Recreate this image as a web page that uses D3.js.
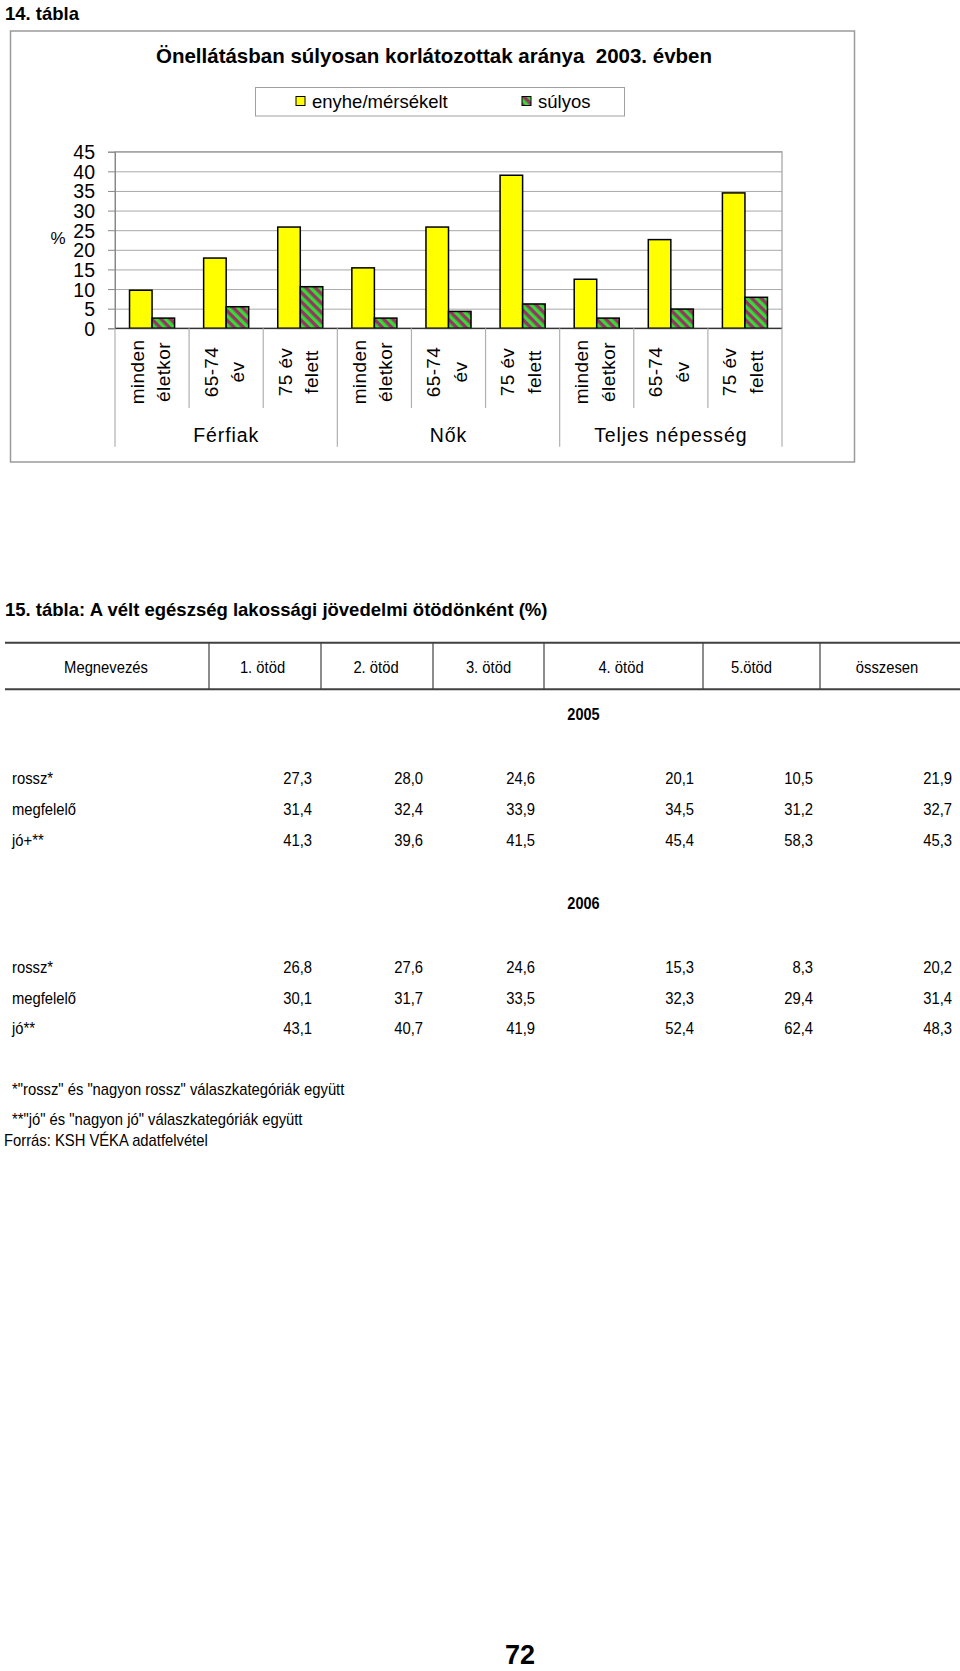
<!DOCTYPE html>
<html><head><meta charset="utf-8">
<script src="https://cdn.jsdelivr.net/npm/d3@7"></script>
<style>
body{margin:0;background:#fff;}
svg{display:block;font-family:"Liberation Sans",Arial,sans-serif;}
</style></head><body>
<svg id="c" width="960" height="1671"></svg>
<script>
// ---------- data ----------
const groups = ["Férfiak", "Nők", "Teljes népesség"];
const ageLabels = [["minden", "életkor"], ["65-74", "év"], ["75 év", "felett"]];
const seriesNames = ["enyhe/mérsékelt", "súlyos"];
const enyhe = [9.7, 17.9, 25.8, 15.4, 25.8, 39.0, 12.5, 22.6, 34.5];
const sulyos = [2.6, 5.5, 10.6, 2.6, 4.3, 6.2, 2.6, 4.9, 7.9];
const yTicks = [0, 5, 10, 15, 20, 25, 30, 35, 40, 45];

const tableHeaders = ["Megnevezés", "1. ötöd", "2. ötöd", "3. ötöd", "4. ötöd", "5.ötöd", "összesen"];
const years = ["2005", "2006"];
const rowLabels2005 = ["rossz*", "megfelelő", "jó+**"];
const rowLabels2006 = ["rossz*", "megfelelő", "jó**"];
const rossz2005 = [27.3, 28.0, 24.6, 20.1, 10.5, 21.9];
const megfelelo2005 = [31.4, 32.4, 33.9, 34.5, 31.2, 32.7];
const jo2005 = [41.3, 39.6, 41.5, 45.4, 58.3, 45.3];
const rossz2006 = [26.8, 27.6, 24.6, 15.3, 8.3, 20.2];
const megfelelo2006 = [30.1, 31.7, 33.5, 32.3, 29.4, 31.4];
const jo2006 = [43.1, 40.7, 41.9, 52.4, 62.4, 48.3];
const footnotes = [
  "*\"rossz\" és \"nagyon rossz\" válaszkategóriák együtt",
  "**\"jó\" és \"nagyon jó\" válaszkategóriák együtt",
  "Forrás: KSH VÉKA adatfelvétel"
];

// ---------- setup ----------
const svg = d3.select("#c");
svg.append("rect").attr("width", 960).attr("height", 1671).attr("fill", "#fff");
const defs = svg.append("defs");
const pat = defs.append("pattern").attr("id", "stripes")
  .attr("patternUnits", "userSpaceOnUse").attr("width", 6.6).attr("height", 6.6)
  .attr("patternTransform", "rotate(-45)");
pat.append("rect").attr("width", 6.6).attr("height", 6.6).attr("fill", "#993366");
pat.append("rect").attr("width", 3.3).attr("height", 6.6).attr("fill", "#33DD33");
const fills = ["#FFFF00", "url(#stripes)"];

svg.append("text").attr("x", 5).attr("y", 20)
  .attr("font-weight", "bold").attr("font-size", 18.5).text("14. tábla");

// chart frame
svg.append("rect").attr("x", 10.5).attr("y", 31).attr("width", 844).attr("height", 431)
  .attr("fill", "#fff").attr("stroke", "#9a9a9a").attr("stroke-width", 1.5);

svg.append("text").attr("x", 434).attr("y", 63).attr("text-anchor", "middle")
  .attr("font-weight", "bold").attr("font-size", 20.5).style("white-space", "pre")
  .text("Önellátásban súlyosan korlátozottak aránya  2003. évben");

// legend
const lg = svg.append("g");
lg.append("rect").attr("x", 255.5).attr("y", 87.5).attr("width", 369).attr("height", 28.5)
  .attr("fill", "#fff").attr("stroke", "#a0a0a0").attr("stroke-width", 1);
const legX = d3.scaleOrdinal().domain(seriesNames).range([296, 522]);
seriesNames.forEach((s, i) => {
  lg.append("rect").attr("x", legX(s)).attr("y", 96.5).attr("width", 9).attr("height", 9)
    .attr("fill", fills[i]).attr("stroke", "#000").attr("stroke-width", 1);
  lg.append("text").attr("x", legX(s) + 16).attr("y", 107.5).attr("font-size", 18.5).text(s);
});

// scales
const m = {l: 115, r: 782, t: 151.7, b: 328.3};
const cats = d3.range(groups.length * ageLabels.length)
  .map(i => groups[Math.floor(i / 3)] + "|" + ageLabels[i % 3].join(" "));
const x0 = d3.scaleBand().domain(cats).range([m.l, m.r]);
const bw = x0.bandwidth();
const x1 = d3.scaleBand().domain(seriesNames).range([bw * 0.196, bw * 0.804]);
const y = d3.scaleLinear().domain([0, 45]).range([m.b, m.t]);

// grid
svg.append("g").attr("transform", `translate(${m.l},0)`)
  .call(d3.axisLeft(y).tickValues(yTicks).tickSize(-(m.r - m.l)).tickFormat(""))
  .call(g => { g.select(".domain").remove(); g.selectAll("line").attr("stroke", "#a8a8a8").attr("stroke-width", 1); });
svg.append("rect").attr("x", m.l).attr("y", m.t).attr("width", m.r - m.l).attr("height", m.b - m.t)
  .attr("fill", "none").attr("stroke", "#a0a0a0").attr("stroke-width", 1.2);

// y axis
svg.append("g").attr("transform", `translate(${m.l},0)`)
  .call(d3.axisLeft(y).tickValues(yTicks).tickSize(7).tickPadding(13))
  .call(g => {
    g.select(".domain").attr("stroke", "#888");
    g.selectAll("line").attr("stroke", "#888");
    g.selectAll("text").attr("font-size", 19.5).attr("fill", "#000")
      .attr("font-family", "'Liberation Sans',Arial,sans-serif").attr("dy", "0.36em");
  });
svg.append("text").attr("x", 58).attr("y", 243.5).attr("text-anchor", "middle")
  .attr("font-size", 17).text("%");

// bars
const barData = cats.map((c, i) => ({c, vals: [enyhe[i], sulyos[i]]}));
const bg = svg.append("g").selectAll("g").data(barData).join("g")
  .attr("transform", d => `translate(${x0(d.c)},0)`);
bg.selectAll("rect").data(d => d.vals.map((v, k) => ({s: seriesNames[k], v, k}))).join("rect")
  .attr("x", d => x1(d.s)).attr("width", x1.bandwidth())
  .attr("y", d => y(d.v)).attr("height", d => y(0) - y(d.v))
  .attr("fill", d => fills[d.k]).attr("stroke", "#000").attr("stroke-width", 1.5);

// bottom axis
svg.append("line").attr("x1", m.l).attr("x2", m.r).attr("y1", m.b).attr("y2", m.b)
  .attr("stroke", "#333").attr("stroke-width", 1.3);
const bounds = cats.map(c => x0(c)).concat([m.r]);
svg.append("g").selectAll("line").data(bounds).join("line")
  .attr("x1", d => d).attr("x2", d => d).attr("y1", m.b)
  .attr("y2", (d, i) => i % 3 === 0 ? 446.7 : 408)
  .attr("stroke", "#b0b0b0").attr("stroke-width", 1.2);

// rotated category labels
const lab = svg.append("g").selectAll("g").data(cats).join("g")
  .attr("transform", c => `translate(${x0(c) + bw / 2},372) rotate(-90)`);
lab.each(function(c, i) {
  const lines = ageLabels[i % 3];
  d3.select(this).selectAll("text").data(lines).join("text")
    .attr("x", 0).attr("y", (d, j) => j === 0 ? -8.5 : 18)
    .attr("text-anchor", "middle").attr("font-size", 19).attr("letter-spacing", 0.4)
    .text(d => d);
});

// group labels
svg.append("g").selectAll("text").data(groups).join("text")
  .attr("x", (g, i) => x0(cats[i * 3]) + bw * 1.5).attr("y", 441.5)
  .attr("text-anchor", "middle").attr("font-size", 19.5).attr("letter-spacing", 0.9)
  .text(d => d);

// ---------- table ----------
const NX = 0.87;
function ntext(sel, x, yy, txt, anchor, opts = {}) {
  return sel.append("text")
    .attr("transform", `translate(${x},${yy}) scale(${opts.sx || NX},1)`)
    .attr("text-anchor", anchor || "start")
    .attr("font-size", opts.size || 17)
    .attr("font-weight", opts.bold ? "bold" : null)
    .text(txt);
}

svg.append("text").attr("x", 5).attr("y", 616).attr("font-weight", "bold").attr("font-size", 18.5)
  .text("15. tábla: A vélt egészség lakossági jövedelmi ötödönként (%)");

const T = svg.append("g");
T.append("line").attr("x1", 5).attr("x2", 960).attr("y1", 642.7).attr("y2", 642.7).attr("stroke", "#404040").attr("stroke-width", 2);
T.append("line").attr("x1", 5).attr("x2", 960).attr("y1", 689.3).attr("y2", 689.3).attr("stroke", "#404040").attr("stroke-width", 2);
const dividers = [209, 321, 433, 544, 703, 820];
T.selectAll("line.dv").data(dividers).join("line").attr("class", "dv")
  .attr("x1", d => d).attr("x2", d => d).attr("y1", 642.7).attr("y2", 689.3)
  .attr("stroke", "#404040").attr("stroke-width", 1.2);

const headX = d3.scaleOrdinal().domain(tableHeaders).range([106, 262.5, 376, 488.5, 621, 751.5, 887]);
tableHeaders.forEach(h => ntext(T, headX(h), 672.5, h, "middle"));

const colEnd = d3.scaleOrdinal().domain(d3.range(6)).range([312, 423, 535, 694, 813, 952]);
const fmt = d3.formatLocale({decimal: ",", thousands: " ", grouping: [3], currency: ["", ""]}).format(".1f");

const blocks = [
  {year: years[0], yy: 720, rowY: [784, 815, 845.5], labels: rowLabels2005, rows: [rossz2005, megfelelo2005, jo2005]},
  {year: years[1], yy: 908.5, rowY: [972.5, 1003.5, 1034], labels: rowLabels2006, rows: [rossz2006, megfelelo2006, jo2006]}
];
blocks.forEach(b => {
  ntext(T, 583.5, b.yy, b.year, "middle", {bold: true, size: 16.5, sx: 0.88});
  b.rows.forEach((r, ri) => {
    ntext(T, 12, b.rowY[ri], b.labels[ri], "start");
    r.forEach((v, ci) => ntext(T, colEnd(ci), b.rowY[ri], fmt(v), "end"));
  });
});

const fnX = [12, 12, 4];
const fnY = [1095, 1125, 1146];
footnotes.forEach((f, i) => ntext(T, fnX[i], fnY[i], f, "start"));

svg.append("text").attr("x", 520).attr("y", 1664).attr("text-anchor", "middle")
  .attr("font-weight", "bold").attr("font-size", 27).text("72");
</script>
</body></html>
